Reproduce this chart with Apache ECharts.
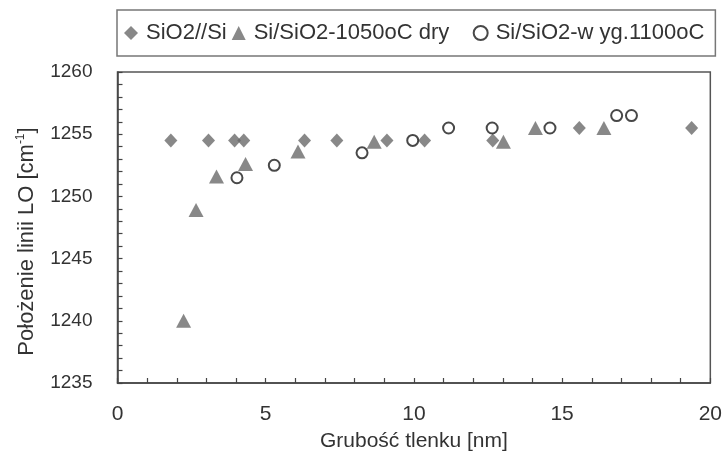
<!DOCTYPE html>
<html>
<head>
<meta charset="utf-8">
<script src="https://cdn.jsdelivr.net/npm/echarts@6/dist/echarts.min.js"></script>
<style>html,body{margin:0;padding:0;background:#fff}#c{width:725px;height:457px}</style>
</head>
<body>
<div id="c"></div>
<script>
const seriesNames = ['SiO2//Si', 'Si/SiO2-1050oC dry', 'Si/SiO2-w yg.1100oC'];
const xTickLabels = ['0', '5', '10', '15', '20'];
const yTickLabels = ['1235', '1240', '1245', '1250', '1255', '1260'];

const diamondX = [1.80, 3.07, 3.95, 4.26, 6.31, 7.40, 9.09, 10.36, 12.66, 15.58, 19.37];
const diamondY = [1254.5, 1254.5, 1254.5, 1254.5, 1254.5, 1254.5, 1254.5, 1254.5, 1254.5, 1255.5, 1255.5];

const triangleX = [2.23, 2.65, 3.34, 4.32, 6.09, 8.66, 13.02, 14.10, 16.41];
const triangleY = [1240.0, 1248.9, 1251.6, 1252.6, 1253.6, 1254.4, 1254.4, 1255.5, 1255.5];

const circleX = [4.03, 5.29, 8.25, 9.96, 11.17, 12.64, 14.59, 16.84, 17.34];
const circleY = [1251.5, 1252.5, 1253.5, 1254.5, 1255.5, 1255.5, 1255.5, 1256.5, 1256.5];

const pair = (xs, ys) => xs.map((x, i) => [x, ys[i]]);
const font = '"Liberation Sans", Arial, sans-serif';
const gray = '#6a6a6a';

const chart = echarts.init(document.getElementById('c'), null, {renderer: 'canvas'});
chart.setOption({
  backgroundColor: '#fff',
  animation: false,
  textStyle: {fontFamily: font, color: '#333'},
  grid: {left: 117.5, right: 14, top: 72, bottom: 72, show: true, borderColor: '#555', borderWidth: 1.5, backgroundColor: 'transparent'},
  legend: {
    left: 117, top: 10,
    orient: 'horizontal',
    itemWidth: 14, itemHeight: 14, itemGap: 5,
    padding: [12, 11, 12, 7],
    borderColor: '#777', borderWidth: 1.5,
    textStyle: {fontFamily: font, fontSize: 22, color: '#333', padding: [0, 0, 0, 3]},
    formatter: function (name) { return name === seriesNames[1] ? name + '   ' : name; },
    data: seriesNames
  },
  xAxis: {
    type: 'value', min: 0, max: 20, interval: 5,
    name: 'Grubość tlenku [nm]', nameLocation: 'middle', nameGap: 48,
    nameTextStyle: {fontFamily: font, fontSize: 21, color: '#333'},
    axisLine: {show: true, lineStyle: {color: '#444', width: 1.5}},
    axisTick: {show: true, inside: true, length: 5, lineStyle: {color: '#444', width: 1.2}},
    minorTick: {show: true, splitNumber: 5, length: 5, lineStyle: {color: '#444', width: 1.2}},
    splitLine: {show: false},
    axisLabel: {fontFamily: font, fontSize: 21, color: '#333', margin: 21,
      formatter: function (v) { return xTickLabels[Math.round(v / 5)]; }}
  },
  yAxis: {
    type: 'value', min: 1235, max: 1260, interval: 5,
    name: 'Położenie linii LO [cm{sup|-1}]', nameLocation: 'middle', nameGap: 79, nameRotate: 90,
    nameTextStyle: {fontFamily: font, fontSize: 22, color: '#333', padding: [0, 28, 0, 0],
      rich: {sup: {fontFamily: font, fontSize: 12, color: '#333', verticalAlign: 'top', padding: [0, 0, 12, 0]}}},
    axisLine: {show: true, lineStyle: {color: '#444', width: 1.5}},
    axisTick: {show: true, inside: true, length: 5, lineStyle: {color: '#444', width: 1.2}},
    minorTick: {show: true, splitNumber: 5, length: 5, lineStyle: {color: '#444', width: 1.2}},
    splitLine: {show: false},
    axisLabel: {fontFamily: font, fontSize: 19, color: '#333', margin: 25,
      formatter: function (v) { return yTickLabels[Math.round((v - 1235) / 5)]; }}
  },
  series: [
    {name: seriesNames[0], type: 'scatter', symbol: 'diamond', symbolSize: [13, 14],
     itemStyle: {color: gray}, data: pair(diamondX, diamondY)},
    {name: seriesNames[1], type: 'scatter', symbol: 'triangle', symbolSize: [15, 14],
     itemStyle: {color: gray}, data: pair(triangleX, triangleY)},
    {name: seriesNames[2], type: 'scatter', symbol: 'circle', symbolSize: 11,
     itemStyle: {color: '#fff', borderColor: '#1a1a1a', borderWidth: 2}, data: pair(circleX, circleY)}
  ]
});
</script>
</body>
</html>
